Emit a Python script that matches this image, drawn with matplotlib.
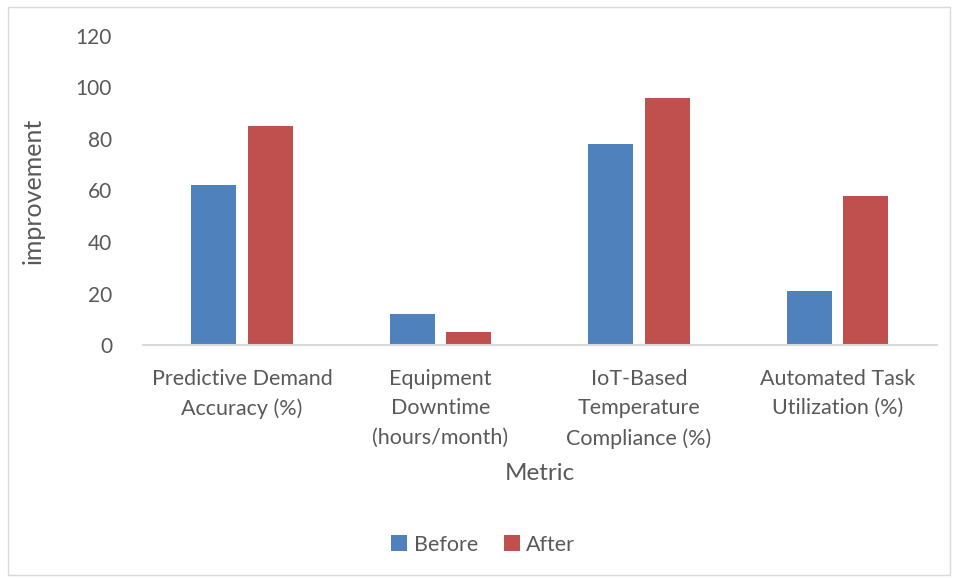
import matplotlib.pyplot as plt
import numpy as np
from matplotlib.patches import Rectangle

categories = [
    "Predictive Demand\nAccuracy (%)",
    "Equipment\nDowntime\n(hours/month)",
    "IoT-Based\nTemperature\nCompliance (%)",
    "Automated Task\nUtilization (%)",
]
before = [62, 12, 78, 21]
after = [85, 5, 96, 58]
yticks = [0, 20, 40, 60, 80, 100, 120]

plt.rcParams['font.family'] = ['Lato', 'DejaVu Sans']
text_col = "#595959"

fig = plt.figure(figsize=(9.57, 5.78), dpi=100)
ax = fig.add_axes([0.149, 0.403, 0.830, 0.535])

x = np.arange(len(categories))
w = 0.227
ax.bar(x - 0.142, before, w, color="#4F81BD", label="Before")
ax.bar(x + 0.142, after, w, color="#C0504D", label="After")

ax.set_xlim(-0.5, len(categories) - 0.5)
ax.set_ylim(0, 120)
ax.set_yticks(yticks)
ax.set_xticks(x)
ax.set_xticklabels(categories, fontsize=15.5, color=text_col, linespacing=1.6)
ax.tick_params(axis='y', labelsize=15, labelcolor=text_col, length=0, pad=22)
ax.tick_params(axis='x', length=0, pad=17)

for s in ["top", "right", "left"]:
    ax.spines[s].set_visible(False)
ax.spines["bottom"].set_color("#d9d9d9")
ax.spines["bottom"].set_linewidth(1.5)

ax.set_xlabel("Metric", fontsize=17.5, color=text_col, labelpad=10)
ax.set_ylabel("improvement", fontsize=18, color=text_col, labelpad=22)

ax.legend(loc="center", bbox_to_anchor=(0.505, 0.0575), bbox_transform=fig.transFigure,
          ncol=2, frameon=False, fontsize=15.5, labelcolor=text_col,
          handlelength=0.75, handleheight=0.75, handletextpad=0.3, columnspacing=1.2)

fig.patches.append(Rectangle((0.008, 0.005), 0.985, 0.983, transform=fig.transFigure,
                             fill=False, edgecolor="#d9d9d9", linewidth=1))

fig.savefig("out.png", dpi=100)
